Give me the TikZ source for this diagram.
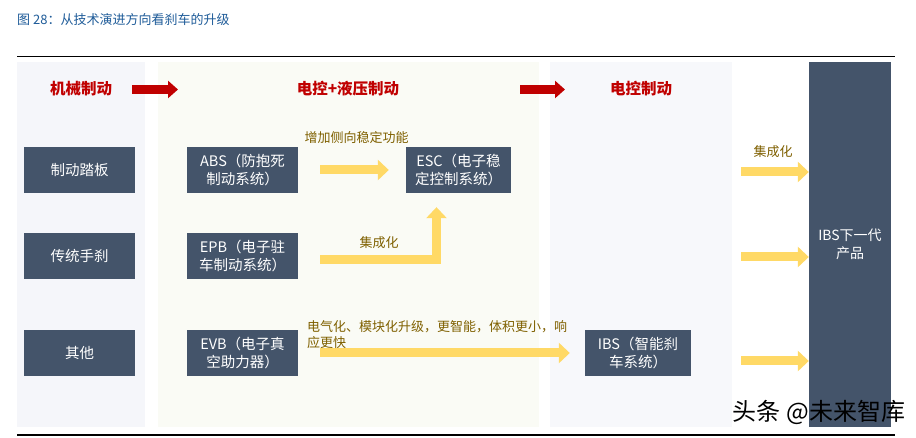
\documentclass[tikz,border=0pt]{standalone}
\usepackage{fontspec}
\setmainfont{Noto Sans CJK SC}
\usepackage{tikz}
\usetikzlibrary{arrows.meta}
\definecolor{boxblue}{HTML}{44546A}
\definecolor{headred}{HTML}{C00000}
\definecolor{arrowyellow}{HTML}{FFD966}
\definecolor{notegold}{HTML}{7F6000}
\definecolor{titleblue}{HTML}{1F5C99}
\definecolor{panelleft}{RGB}{245,246,250}
\definecolor{panelmid}{RGB}{250,251,245}
\definecolor{panelright}{RGB}{247,248,251}
\tikzstyle{box}=[fill=boxblue, text=white, minimum width=111pt, minimum height=46pt, inner sep=0pt, align=center, font=\fontsize{14.5}{18}\selectfont]
\tikzstyle{head}=[text=headred, font=\fontsize{15.5}{18}\selectfont\bfseries]
\tikzstyle{note}=[text=notegold, inner sep=0pt, font=\fontsize{13}{16}\selectfont]
\tikzstyle{yarrow}=[draw=arrowyellow, line width=9pt, -{Triangle[length=11pt,width=20pt]}]
\tikzstyle{redarrow}=[draw=headred, line width=9pt, -{Triangle[length=10pt,width=17pt]}]

\begin{document}
\begin{tikzpicture}[x=1pt, y=-1pt]
            \useasboundingbox (0,0) rectangle (916,438);
            \fill[white] (0,0) rectangle (916,438);
            % title and rules
            \node [anchor=west, text=titleblue, inner sep=0pt, font=\fontsize{13}{16}\selectfont] (title) at (17,20) {图 28：从技术演进方向看刹车的升级};
            \draw[line width=1pt] (17,57) -- (895,57);
            \draw[line width=1.3pt] (17,435) -- (895,435);
            % panels
            \fill[panelleft] (17,62) rectangle (145,427);
            \fill[panelmid] (158,62) rectangle (539,427);
            \fill[panelright] (550,62) rectangle (732,427);
            % headers
            \node [head] (mech) at (81,89) {机械制动};
            \node [head] (hydro) at (348,89) {电控+液压制动};
            \node [head] (elec) at (641,89) {电控制动};
            \coordinate (r1) at (132,89.5);
            \coordinate (r2) at (520,89.5);
            \draw[redarrow] (r1) -- +(46,0);
            \draw[redarrow] (r2) -- +(45,0);
            % boxes
            \node [box] (pedal) at (79.5,170) {制动踏板};
            \node [box, right of=pedal, node distance=163pt] (abs) {ABS（防抱死\\制动系统）};
            \node [box, right of=abs, node distance=216pt, minimum width=105pt] (esc) {ESC（电子稳\\定控制系统）};
            \node [box, below of=pedal, node distance=86pt] (hand) {传统手刹};
            \node [box, below of=abs, node distance=86pt] (epb) {EPB（电子驻\\车制动系统）};
            \node [box, below of=hand, node distance=97pt] (other) {其他};
            \node [box, below of=epb, node distance=97pt] (evb) {EVB（电子真\\空助力器）};
            \node [box, right of=evb, node distance=395.5pt, minimum width=106pt] (ibs) {IBS（智能刹\\车系统）};
            \node [box, minimum width=82pt, minimum height=365pt, font=\fontsize{14}{18}\selectfont] (next) at (850,244.5) {IBS下一代\\产品};
            % upgrade arrows
            \draw[yarrow, shorten <=22pt, shorten >=17pt] (abs) -- (esc);
            \draw[yarrow] ([xshift=22pt,yshift=-3.5pt]epb.east) -| ([xshift=-22pt,yshift=-14pt]esc.south);
            \draw[yarrow, shorten <=22pt, shorten >=15pt] (evb) -- (ibs);
            \coordinate (c1) at (741,172);
            \coordinate (c2) at (741,257);
            \coordinate (c3) at (741,361);
            \draw[yarrow] (c1) -- (c1 -| next.west);
            \draw[yarrow] (c2) -- (c2 -| next.west);
            \draw[yarrow] (c3) -- (c3 -| next.west);
            % notes
            \node [note] (n1) at (356.5,138) {增加侧向稳定功能};
            \node [note] (n2) at (379,243) {集成化};
            \node [note, anchor=west, align=left] (n3) at (307,335) {电气化、模块化升级，更智能，体积更小，响\\应更快};
            \node [note] (n4) at (773,152) {集成化};
            \node [font=\fontsize{24}{24}\selectfont, inner sep=0pt] (mark) at (819,412) {头条 @未来智库};
        \end{tikzpicture}
\end{document}
